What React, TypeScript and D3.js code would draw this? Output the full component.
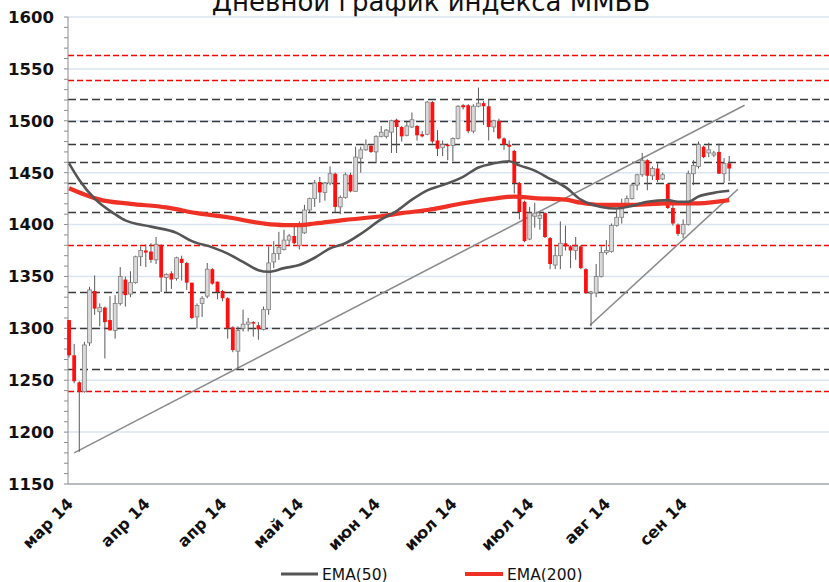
import React from "react";
import * as d3 from "d3";

const W = 829;
const H = 582;

const title = "Дневной график индекса ММВБ";
const xLabels = ["мар 14", "апр 14", "апр 14", "май 14", "июн 14", "июл 14", "июл 14", "авг 14", "сен 14"];
const labelEvery = 15;
const categoryCount = 149;
const yTicks = [1150, 1200, 1250, 1300, 1350, 1400, 1450, 1500, 1550, 1600];

const opens = [1308,1274,1248,1239,1286,1336,1316,1320,1308,1298,1324,1347,1333,1344,1369,1375,1374,1366,1380,1349,1353,1348,1367,1363,1344,1311,1324,1331,1357,1345,1336,1329,1301,1278,1300,1304,1306,1303,1299,1318,1364,1372,1376,1385,1389,1380,1392,1414,1425,1441,1431,1440,1449,1417,1426,1448,1432,1464,1472,1476,1470,1485,1485,1489,1501,1494,1486,1494,1495,1487,1487,1518,1481,1474,1477,1476,1483,1515,1515,1490,1514,1517,1514,1494,1500,1483,1477,1471,1440,1422,1386,1408,1406,1411,1387,1361,1370,1382,1379,1375,1379,1357,1334,1334,1350,1373,1374,1399,1407,1419,1425,1438,1448,1462,1447,1454,1444,1439,1416,1400,1391,1400,1449,1456,1475,1469,1467,1470,1449,1459];
const highs = [1308,1285,1249,1287,1340,1351,1324,1321,1331,1332,1359,1350,1355,1370,1379,1381,1382,1388,1381,1353,1355,1369,1370,1364,1344,1324,1331,1363,1358,1345,1337,1330,1302,1302,1318,1310,1307,1306,1321,1379,1384,1393,1395,1391,1398,1403,1419,1426,1443,1446,1441,1456,1450,1428,1450,1450,1475,1475,1482,1477,1486,1495,1492,1501,1502,1495,1499,1508,1496,1490,1519,1519,1491,1481,1478,1484,1515,1516,1516,1516,1532,1519,1521,1501,1502,1484,1481,1472,1441,1423,1417,1421,1412,1412,1388,1379,1403,1399,1380,1388,1380,1358,1336,1362,1379,1385,1401,1414,1425,1428,1440,1449,1469,1463,1456,1459,1450,1440,1420,1401,1405,1452,1462,1480,1476,1479,1471,1478,1464,1466];
const lows = [1272,1247,1181,1238,1283,1313,1302,1271,1298,1290,1322,1321,1330,1343,1360,1359,1363,1362,1335,1335,1338,1346,1346,1337,1309,1300,1311,1329,1342,1328,1326,1290,1277,1261,1297,1297,1292,1289,1298,1313,1358,1366,1375,1380,1381,1376,1391,1412,1417,1421,1423,1438,1412,1410,1425,1431,1432,1450,1471,1469,1459,1484,1483,1469,1469,1480,1485,1493,1481,1484,1486,1478,1466,1466,1462,1461,1482,1511,1488,1488,1513,1496,1481,1489,1482,1472,1461,1430,1405,1383,1385,1397,1395,1387,1357,1357,1357,1375,1358,1366,1357,1333,1302,1330,1349,1371,1373,1398,1401,1417,1424,1433,1446,1433,1443,1441,1443,1415,1399,1389,1387,1399,1438,1454,1464,1465,1465,1449,1440,1442];
const closes = [1274,1249,1239,1284,1337,1319,1320,1306,1298,1324,1350,1332,1344,1369,1375,1373,1366,1381,1349,1352,1347,1368,1363,1344,1310,1322,1329,1357,1343,1335,1329,1300,1279,1298,1304,1306,1305,1299,1318,1363,1372,1378,1385,1389,1382,1400,1414,1425,1440,1431,1440,1449,1417,1426,1448,1432,1465,1472,1477,1470,1485,1489,1491,1500,1494,1485,1495,1501,1486,1485,1518,1480,1473,1477,1476,1483,1514,1513,1490,1514,1517,1514,1494,1500,1483,1477,1475,1440,1412,1384,1411,1411,1409,1388,1362,1370,1382,1379,1375,1379,1358,1334,1335,1350,1373,1375,1399,1407,1417,1425,1438,1448,1462,1447,1454,1443,1448,1416,1401,1391,1400,1449,1457,1477,1465,1472,1469,1449,1459,1454];

const redLevels = [1563, 1539, 1380, 1240];
const grayLevels = [1521, 1500, 1478, 1460, 1440, 1412, 1335, 1300, 1261];

const ema50Idx = [0,2,5,9,11,16,21,24,28,31,34,37,39,42,45,48,51,54,57,61,64,67,70,73,77,80,83,86,88,91,94,97,100,104,107,110,113,117,119,121,123,126,129];
const ema50Val = [1459,1443,1425,1410,1404,1398,1392,1384,1378,1372,1364,1356,1354.5,1358,1361,1368,1377,1382,1391,1405,1413,1424,1433,1438,1446,1455,1459,1461,1457,1452,1444,1436,1424,1417,1415.5,1418,1422,1423.5,1422,1422,1427,1430.5,1432.5];
const ema200Idx = [0,3,6,12,19,25,31,38,42,45,48,54,61,65,70,77,83,87,91,97,100,104,110,117,123,129];
const ema200Val = [1435,1429,1424,1420,1416.5,1411,1407,1401,1399.5,1399.5,1401,1404.5,1408,1411,1414,1420.5,1425,1427,1425.5,1424,1421,1419,1419,1420.5,1420.5,1423.5];

const trendIdx1 = [1, 132];
const trendVal1 = [1180, 1515];
const trendIdx2 = [101.8, 130.7];
const trendVal2 = [1303, 1434];

export default function App() {
  const left = 68;
  const right = W;
  const top = 17;
  const bottom = 484;
  const x = d3.scaleLinear().domain([-0.5, categoryCount - 0.5]).range([66.5, W]);
  const y = d3.scaleLinear().domain([1150, 1600]).range([bottom, top]);
  const minorTicks = d3.range(1150, 1601, 10);
  const line = d3
    .line<[number, number]>()
    .x((d) => x(d[0]))
    .y((d) => y(d[1]))
    .curve(d3.curveMonotoneX);
  const ema50 = ema50Idx.map((d, i) => [d, ema50Val[i]] as [number, number]);
  const ema200 = ema200Idx.map((d, i) => [d, ema200Val[i]] as [number, number]);
  const straight = d3.line<[number, number]>().x((d) => x(d[0])).y((d) => y(d[1]));
  const t1 = trendIdx1.map((d, i) => [d, trendVal1[i]] as [number, number]);
  const t2 = trendIdx2.map((d, i) => [d, trendVal2[i]] as [number, number]);
  const bw = 3.8;

  return (
    <svg width={W} height={H} style={{ position: "absolute", left: 0, top: 0, background: "#fff" }} fontFamily="DejaVu Sans">
      <text x={431} y={11} textAnchor="middle" fontSize={26} fill="#111">{title}</text>
      {yTicks.map((t) => (
        <line key={"g" + t} x1={left} x2={right} y1={y(t)} y2={y(t)} stroke="#dbe5f1" strokeWidth={1.5} />
      ))}
      {grayLevels.map((v) => (
        <line key={"gl" + v} x1={left} x2={right} y1={Math.round(y(v)) + 0.5} y2={Math.round(y(v)) + 0.5} stroke="#3a3a3a" strokeWidth={1.7} strokeDasharray="8,4" />
      ))}
      {redLevels.map((v) => (
        <line key={"rl" + v} x1={left} x2={right} y1={Math.round(y(v)) + 0.5} y2={Math.round(y(v)) + 0.5} stroke="#ff0000" strokeWidth={1.6} strokeDasharray="6,3" />
      ))}
      <line x1={left} x2={left} y1={top} y2={bottom} stroke="#8c8c8c" />
      <line x1={left} x2={right} y1={bottom} y2={bottom} stroke="#8c8c8c" />
      {minorTicks.map((t) => (
        <line key={"m" + t} x1={left - 4} x2={left} y1={y(t)} y2={y(t)} stroke="#8c8c8c" />
      ))}
      {yTicks.map((t) => (
        <text key={"yl" + t} x={54} y={y(t)} dy="0.36em" textAnchor="end" fontSize={16.5} fontWeight="bold" fill="#111">
          {t}
        </text>
      ))}
      {xLabels.map((l, i) => {
        const px = x(i * labelEvery) + 1;
        const py = 501;
        return (
          <text key={"xl" + i} x={px} y={py} dy="0.35em" textAnchor="end" fontSize={16} fontWeight="bold" fill="#111" transform={`rotate(-45 ${px} ${py})`}>
            {l}
          </text>
        );
      })}
      <path d={straight(t1) || ""} fill="none" stroke="#8c8c8c" strokeWidth={1.6} />
      <path d={straight(t2) || ""} fill="none" stroke="#8c8c8c" strokeWidth={1.6} />
      {opens.map((o, i) => {
        const c = closes[i];
        const up = c >= o;
        const cx = x(i);
        const yt = y(Math.max(o, c));
        const yb = y(Math.min(o, c));
        return (
          <g key={"c" + i}>
            <line x1={cx} x2={cx} y1={y(highs[i])} y2={y(lows[i])} stroke="#595959" strokeWidth={1} />
            <rect
              x={cx - bw / 2}
              y={yt}
              width={bw}
              height={Math.max(1.5, yb - yt)}
              fill={up ? "#d9d9d9" : "#ff1010"}
              stroke={up ? "#7f7f7f" : "none"}
              strokeWidth={0.8}
            />
          </g>
        );
      })}
      <path d={line(ema200) || ""} fill="none" stroke="#ee3124" strokeWidth={4.2} />
      <path d={line(ema50) || ""} fill="none" stroke="#555555" strokeWidth={2.6} />
      <line x1={281} x2={318} y1={574} y2={574} stroke="#555555" strokeWidth={3} />
      <text x={322} y={579.5} fontSize={15.5} fill="#111">EMA(50)</text>
      <line x1={465} x2={503} y1={574} y2={574} stroke="#ee3124" strokeWidth={4} />
      <text x={507} y={579.5} fontSize={15.5} fill="#111">EMA(200)</text>
    </svg>
  );
}
